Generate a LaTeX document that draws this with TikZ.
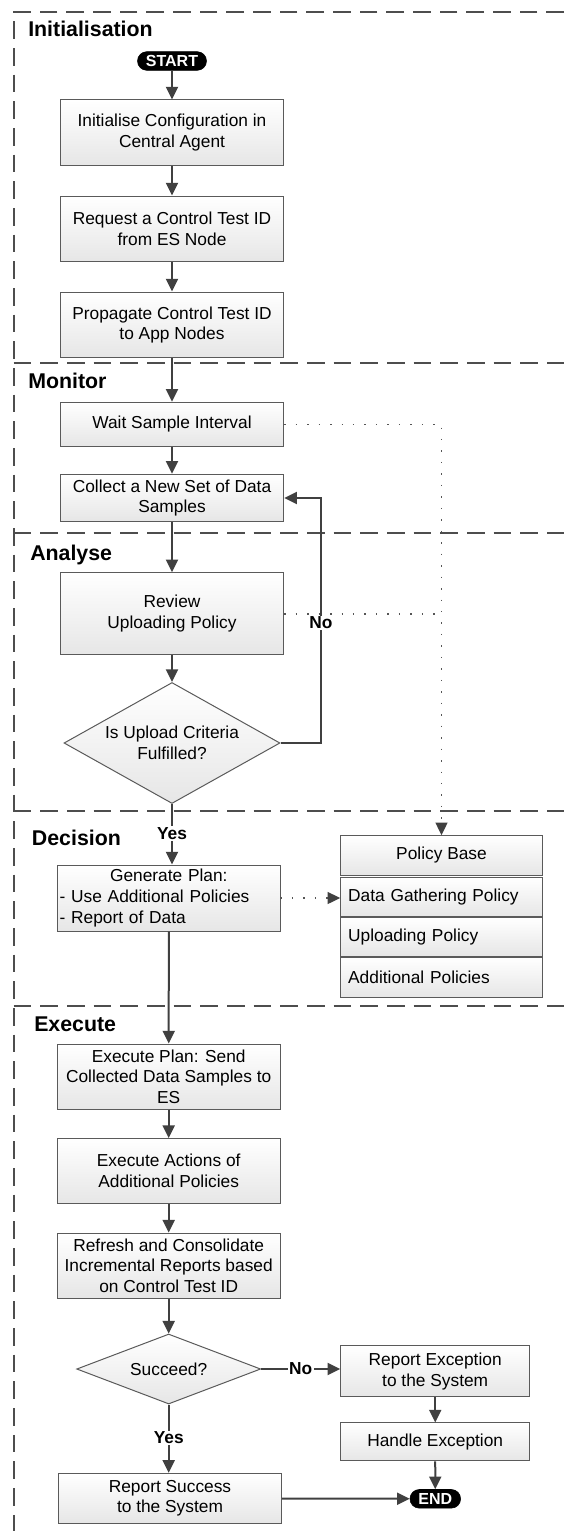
\documentclass[tikz,border=0pt]{standalone}
\usepackage{fontspec}
\setmainfont{Liberation Sans}
\usepackage{tikz}
\usetikzlibrary{arrows.meta,positioning,shapes.geometric}
\definecolor{ink}{HTML}{404040}
\definecolor{edge}{HTML}{5A5A5A}
\definecolor{lane}{HTML}{4D4D4D}
\definecolor{dots}{HTML}{555555}
\definecolor{shade}{HTML}{E6E6E6}
\tikzset{
  stepbox/.style={rectangle, draw=edge, line width=0.75pt, top color=white, bottom color=shade,
                  align=center, font=\fontsize{13}{15.5}\selectfont, inner sep=2pt, minimum width=167.5pt},
  decide/.style={diamond, draw=edge, line width=0.75pt, top color=white, bottom color=shade,
                 align=center, font=\fontsize{13}{15.5}\selectfont, inner sep=0pt},
  polrow/.style={stepbox, minimum width=151.2pt, text width=140pt, inner xsep=5.6pt, align=left},
  pill/.style={rectangle, rounded corners=7pt, fill=black, draw=black, text=white,
               font=\fontsize{12}{12}\selectfont\bfseries, inner sep=1pt, minimum height=14pt},
  phase/.style={anchor=base west, inner sep=0pt, font=\fontsize{16}{18}\selectfont\bfseries},
  yn/.style={font=\fontsize{13}{15}\selectfont\bfseries, fill=white, inner sep=1pt},
  arr/.style={-{Triangle[width=9pt,length=9.5pt]}, draw=ink, line width=1.5pt},
  dotline/.style={draw=dots, line width=1.1pt, dash pattern=on 1.1pt off 7.5pt},
  dotarr/.style={dotline, -{Triangle[width=9pt,length=9.5pt,color=ink]}},
  lanes/.style={draw=lane, line width=1.6pt, dash pattern=on 13.3pt off 6.7pt}
}

\begin{document}
\begin{tikzpicture}[x=0.75pt,y=-0.75pt]
  \useasboundingbox (0,0) rectangle (564,1531);
  % phase frame
  \draw[lanes] (564,11.7) -- (13.7,11.7) -- (13.7,1531);
  \foreach \y in {363.3,532.7,811,1005.7} \draw[lanes] (13.7,\y) -- (564,\y);
  \node[phase] (tinit) at (28,36.7) {Initialisation};
  \node[phase] (tmon) at (28,388) {Monitor};
  \node[phase] (tana) at (30,560.7) {Analyse};
  \node[phase] (tdec) at (31.7,845) {Decision};
  \node[phase] (texe) at (34,1031.7) {Execute};

  % initialisation
  \node[pill, minimum width=51.75pt] (start) at (172,61) {START};
  \node[stepbox, minimum height=49.3pt] (init) at (172,132.8) {Initialise Configuration in\\Central Agent};
  \node[stepbox, minimum height=49.3pt, below=22pt of init] (req) {Request a Control Test ID\\from ES Node};
  \node[stepbox, minimum height=49.3pt, below=22pt of req] (prop) {Propagate Control Test ID\\to App Nodes};

  % monitor
  \node[stepbox, minimum height=33pt] (wait) at (172,424.3) {Wait Sample Interval};
  \node[stepbox, minimum height=35.5pt] (collect) at (172,498) {Collect a New Set of Data\\Samples};

  % analyse
  \node[stepbox, minimum height=61.7pt] (review) at (172,613.8) {Review\\Uploading Policy};
  \node[decide, aspect=1.78, minimum width=162pt, minimum height=90.75pt] (upq) at (172,743) {Is Upload Criteria\\Fulfilled?};

  % decision
  \node[stepbox, minimum width=166.8pt, minimum height=49.5pt, text width=163.8pt, inner xsep=1.5pt, align=left] (gen) at (168.8,898)
    {\hspace*{\fill}Generate Plan:\hspace*{\fill}\null\\- Use Additional Policies\\- Report of Data};
  \node[stepbox, minimum width=151.2pt, minimum height=29.7pt] (pbase) at (441.5,855.5) {Policy Base};
  \node[polrow, minimum height=29.25pt, below=1pt of pbase] (pgather) {Data Gathering Policy};
  \node[polrow, minimum height=28.8pt, below=0pt of pgather] (pupload) {Uploading Policy};
  \node[polrow, minimum height=30.4pt, below=0pt of pupload] (padd) {Additional Policies};

  % execute
  \node[stepbox, minimum width=167pt, minimum height=48.75pt] (exec1) at (168.7,1076.5) {Execute Plan: Send\\Collected Data Samples to\\ES};
  \node[stepbox, minimum width=167pt, minimum height=48.75pt, below=21.4pt of exec1] (exec2) {Execute Actions of\\Additional Policies};
  \node[stepbox, minimum width=167pt, minimum height=48.75pt, below=21.4pt of exec2] (exec3) {Refresh and Consolidate\\Incremental Reports based\\on Control Test ID};
  \node[decide, aspect=2.6, minimum width=138pt, minimum height=52.5pt] (succ) at (168.7,1369) {Succeed?};
  \node[stepbox, minimum width=141.75pt, minimum height=38pt] (repx) at (435.2,1371.3) {Report Exception\\to the System};
  \node[stepbox, minimum width=141.75pt, minimum height=28.5pt, below=19pt of repx] (handle) {Handle Exception};
  \node[pill, minimum width=38pt] (endn) at (435.3,1498.8) {END};
  \node[stepbox, minimum height=37.5pt] (rsucc) at (170,1498.3) {Report Success\\to the System};

  % flow
  \foreach \a/\b in {start/init,init/req,req/prop,prop/wait,wait/collect,collect/review,review/upq,gen/exec1,exec1/exec2,exec2/exec3,exec3/succ,repx/handle,handle/endn,rsucc/endn}
    \draw[arr] (\a) -- (\b);
  \draw[dotarr] (wait.east) -- (wait.east -| pbase.north) -- (pbase.north);
  \draw[dotline] (review.east) -- (review.east -| pbase.north);
  \draw[dotarr] (gen.east) -- (gen.east -| pgather.west);
  \coordinate (loopx) at (321,600);
  \draw[arr] (upq.east) -- (upq.east -| loopx) -- (loopx |- collect.east) node[yn, pos=0.49] {No} -- (collect.east);
  \draw[arr] (upq.south) -- (upq.south |- gen.north) node[yn, pos=0.49] {Yes};
  \draw[arr] (succ.south) -- (succ.south |- rsucc.north) node[yn, pos=0.49] {Yes};
  \draw[arr] (succ.east) -- (succ.east -| repx.west) node[yn, pos=0.5] {No};
\end{tikzpicture}
\end{document}
